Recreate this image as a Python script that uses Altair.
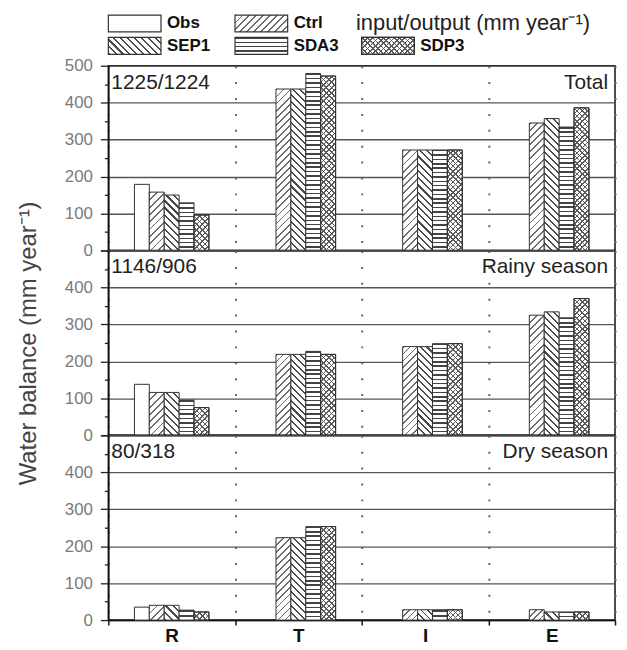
import math
import altair as alt

# ---------------- data ----------------
categories = ["R", "T", "I", "E"]
series = ["Obs", "Ctrl", "SEP1", "SDA3", "SDP3"]
panel_names = ["Total", "Rainy season", "Dry season"]
panel_ratios = ["1225/1224", "1146/906", "80/318"]

total_obs = [179, None, None, None]
total_ctrl = [158, 437, 272, 345]
total_sep1 = [150, 437, 272, 357]
total_sda3 = [129, 479, 272, 334]
total_sdp3 = [96, 472, 272, 386]

rainy_obs = [138, None, None, None]
rainy_ctrl = [116, 219, 240, 325]
rainy_sep1 = [116, 219, 240, 334]
rainy_sda3 = [95, 227, 248, 318]
rainy_sdp3 = [75, 219, 248, 370]

dry_obs = [35, None, None, None]
dry_ctrl = [40, 223, 28, 28]
dry_sep1 = [40, 223, 28, 22]
dry_sda3 = [27, 253, 28, 22]
dry_sdp3 = [22, 253, 28, 22]

legend_cols = [0, 1, 0, 1, 2]
legend_rows = [0, 0, 1, 1, 1]
legend_note = "input/output (mm year\u207b\u00b9)"
y_title = "Water balance (mm year\u207b\u00b9)"

panel_values = [
    {"Obs": total_obs, "Ctrl": total_ctrl, "SEP1": total_sep1, "SDA3": total_sda3, "SDP3": total_sdp3},
    {"Obs": rainy_obs, "Ctrl": rainy_ctrl, "SEP1": rainy_sep1, "SDA3": rainy_sda3, "SDP3": rainy_sdp3},
    {"Obs": dry_obs, "Ctrl": dry_ctrl, "SEP1": dry_sep1, "SDA3": dry_sda3, "SDP3": dry_sdp3},
]

# ---------------- layout / style ----------------
W = 510
H = 186
YMAX = 500
BAND = W / 4
BAR_W = 15.0
GROUP_W = BAR_W * len(series)
GROUP_START = (BAND - GROUP_W) / 2
YTICKS = list(range(0, 501, 50))
FONT = "Liberation Sans"
INK = "#333333"
WHITE = "#ffffff"
CLEAR = "rgba(255,255,255,0)"

HATCH = {
    "Ctrl": [("fwd", 5.0, 0.26, "#6a6a6a")],
    "SEP1": [("back", 5.0, 0.30, "#4a4a4a")],
    "SDA3": [("horiz", 4.4, 0.34, "#444444")],
    "SDP3": [("fwd", 3.8, 0.30, "#5a5a5a"), ("back", 3.8, 0.30, "#5a5a5a")],
}

_gid = [0]


def gradient(kind, period, frac, color, w, h, bg):
    if kind == "horiz":
        span = h
        x1, y1, x2, y2 = 0, 0, 0, 1
    else:
        k = (w + h) / (w * w + h * h)
        span = (w + h) / math.sqrt(2)
        if kind == "fwd":
            x1, y1, x2, y2 = 0, 0, k * w, k * h
        else:
            x1, y1, x2, y2 = 0, 1, k * w, 1 - k * h
    n = max(1, int(round(span / period)))
    stops = []
    for i in range(n):
        a = round(i / n, 5)
        m = round((i + frac) / n, 5)
        stops += [
            {"offset": a, "color": bg},
            {"offset": a, "color": color},
            {"offset": m, "color": color},
            {"offset": m, "color": bg},
        ]
    stops.append({"offset": 1, "color": bg})
    _gid[0] += 1
    return {
        "gradient": "linear",
        "id": "hatch%d" % _gid[0],
        "x1": round(x1, 5), "y1": round(y1, 5),
        "x2": round(x2, 5), "y2": round(y2, 5),
        "stops": stops,
    }


def fills(name, w, h):
    if name not in HATCH:
        return WHITE, None
    specs = HATCH[name]
    f1 = gradient(*specs[0], w, h, WHITE)
    f2 = gradient(*specs[1], w, h, CLEAR) if len(specs) > 1 else None
    return f1, f2


def panel_records(vals):
    recs = []
    for s in series:
        for c, v in zip(categories, vals[s]):
            if v is None:
                continue
            f1, f2 = fills(s, BAR_W, v / YMAX * H)
            rec = {"cat": c, "series": s, "value": v, "fill": f1}
            if f2 is not None:
                rec["fill2"] = f2
            recs.append(rec)
    return recs


def make_panel(idx):
    recs = panel_records(panel_values[idx])
    data = alt.Data(values=recs)
    top = idx == 0
    bottom = idx == 2
    grid_kw = dict(grid=True, gridColor="#666666", gridDash=[2, 14], gridWidth=2, tickBand="extent")
    if bottom:
        xaxis = alt.Axis(title=None, labelFont=FONT, labelFontSize=19, labelFontWeight="bold",
                         labelColor="#111111", labelPadding=2, labelAngle=0, ticks=True, tickSize=5,
                         tickColor="#111111", tickWidth=1.5, domainColor="#111111", domainWidth=1.5,
                         **grid_kw)
    else:
        xaxis = alt.Axis(title=None, labels=False, ticks=False, domain=False, **grid_kw)
    label_test = "datum.value % 100 === 0" if top else "datum.value % 100 === 0 && datum.value < 500"
    ykw = dict(
        values=YTICKS,
        labelExpr=label_test + " ? datum.label : ''",
        labelFont=FONT, labelFontSize=17, labelColor="#7a7a7a", labelPadding=8, labelOverlap=False,
        tickSize={"condition": {"test": "datum.value % 100 === 0", "value": 8}, "value": 4},
        tickColor="#222222", tickWidth=1.3,
        domainColor="#111111", domainWidth=1.5,
        grid=True, gridColor="#555555", gridWidth=1.3,
        gridOpacity={"condition": {"test": "datum.value % 100 === 0", "value": 1}, "value": 0},
    )
    if idx == 1:
        ykw.update(title=y_title, titleFont=FONT, titleFontSize=24, titleFontWeight="normal",
                   titleColor="#444444", titlePadding=24)
    else:
        ykw.update(title=None)
    yaxis = alt.Axis(**ykw)
    x = alt.X("cat:N", sort=categories,
              scale=alt.Scale(domain=categories, paddingInner=0, paddingOuter=0), axis=xaxis)
    xo = alt.XOffset("series:N", sort=series,
                     scale=alt.Scale(domain=series, paddingInner=0, paddingOuter=0,
                                     range=[GROUP_START, GROUP_START + GROUP_W]))
    y = alt.Y("value:Q", scale=alt.Scale(domain=[0, YMAX], nice=False), axis=yaxis)

    bars = alt.Chart(data).mark_bar(stroke=INK, strokeWidth=1).encode(
        x=x, xOffset=xo, y=y, fill=alt.Fill("fill:N", scale=None))
    over = alt.Chart(data).transform_filter("isValid(datum.fill2)").mark_bar(
        stroke=INK, strokeWidth=1).encode(
        x=x, xOffset=xo, y=y, fill=alt.Fill("fill2:N", scale=None))

    ann = alt.Chart(alt.Data(values=[{"left": panel_ratios[idx], "right": panel_names[idx]}]))
    left_txt = ann.mark_text(align="left", baseline="middle", font=FONT, fontSize=21,
                             color="#222222").encode(text="left:N", x=alt.value(3), y=alt.value(17))
    right_txt = ann.mark_text(align="right", baseline="middle", font=FONT, fontSize=21,
                              color="#222222").encode(text="right:N", x=alt.value(W - 7), y=alt.value(17))
    return alt.layer(bars, over, left_txt, right_txt)


# ---------------- legend (inside the top panel, above its plot area) ----------------
BOX_W = 53
BOX_H = 17
ROW_PX = 22.5
ROW0_PX = 42.5  # distance of first legend row above plot top
LABEL_DX = 59

leg_recs = []
for s, c, r in zip(series, legend_cols, legend_rows):
    f1, f2 = fills(s, BOX_W, BOX_H)
    rec = {"label": s, "x0": c, "x1": c + BOX_W / BAND, "tx": c + LABEL_DX / BAND,
           "row": r, "y0": r - BOX_H / 2 / ROW_PX, "y1": r + BOX_H / 2 / ROW_PX, "fill": f1}
    if f2 is not None:
        rec["fill2"] = f2
    leg_recs.append(rec)

d0 = ROW0_PX / ROW_PX
lx = alt.Scale(domain=[0, 4], nice=False, zero=False)
ly = alt.Scale(domain=[d0, d0 + H / ROW_PX], nice=False, zero=False, reverse=True)
leg_data = alt.Data(values=leg_recs)
leg_boxes = alt.Chart(leg_data).mark_rect(stroke=INK, strokeWidth=1.2).encode(
    x=alt.X("x0:Q", scale=lx, axis=None), x2="x1:Q",
    y=alt.Y("y0:Q", scale=ly, axis=None), y2="y1:Q",
    fill=alt.Fill("fill:N", scale=None))
leg_over = alt.Chart(leg_data).transform_filter("isValid(datum.fill2)").mark_rect(
    stroke=INK, strokeWidth=1.2).encode(
    x=alt.X("x0:Q", scale=lx, axis=None), x2="x1:Q",
    y=alt.Y("y0:Q", scale=ly, axis=None), y2="y1:Q",
    fill=alt.Fill("fill2:N", scale=None))
leg_text = alt.Chart(leg_data).mark_text(align="left", baseline="middle", font=FONT, fontSize=17,
                                         fontWeight="bold", color="#111111").encode(
    x=alt.X("tx:Q", scale=lx, axis=None), y=alt.Y("row:Q", scale=ly, axis=None), text="label:N")
note = alt.Chart(alt.Data(values=[{"t": legend_note, "x": 1.955, "row": 0}])).mark_text(
    align="left", baseline="middle", font=FONT, fontSize=22, color="#222222").encode(
    x=alt.X("x:Q", scale=lx, axis=None), y=alt.Y("row:Q", scale=ly, axis=None), text="t:N")
legend = alt.layer(leg_boxes, leg_over, leg_text, note)

top_panel = alt.layer(make_panel(0), legend).resolve_scale(x="independent", y="independent").properties(
    width=W, height=H)
mid_panel = make_panel(1).properties(width=W, height=H)
bot_panel = make_panel(2).properties(width=W, height=H)

chart = alt.vconcat(top_panel, mid_panel, bot_panel, spacing=0, bounds="flush").properties(
    padding={"left": 7, "top": 1, "right": 2, "bottom": 0}
).configure(font=FONT).configure_view(stroke="#111111", strokeWidth=1.5)

chart.save("out.html", embed_options={"renderer": "svg", "actions": False})
